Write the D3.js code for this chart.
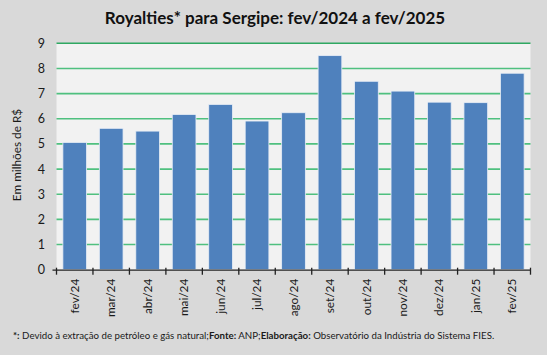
<!DOCTYPE html>
<html><head><meta charset="utf-8">
<script src="https://cdn.jsdelivr.net/npm/d3@7"></script>
<style>
html,body{margin:0;padding:0;background:#d9d9d9;}
svg{display:block;font-family:Lato,"Open Sans",sans-serif;}
</style></head>
<body><svg id="c" width="547" height="355"></svg>
<script>
const categories = ["fev/24","mar/24","abr/24","mai/24","jun/24","jul/24","ago/24","set/24","out/24","nov/24","dez/24","jan/25","fev/25"];
const values = [5.06,5.62,5.51,6.17,6.57,5.91,6.24,8.51,7.49,7.10,6.66,6.64,7.81];
const yTicks = [0,1,2,3,4,5,6,7,8,9];
const title = "Royalties* para Sergipe: fev/2024 a fev/2025";
const yTitle = "Em milhões de R$";

const svg = d3.select("#c");
const W = 547, H = 355;
const m = {left:56.5, right:16.5, top:43.3, bottom:85.3};
const iw = W - m.left - m.right, ih = H - m.top - m.bottom;

svg.append("rect").attr("width",W).attr("height",H).attr("fill","#d9d9d9");

const x = d3.scaleBand().domain(categories).range([0,iw]).paddingInner(0.35).paddingOuter(0.175);
const y = d3.scaleLinear().domain([0,9]).range([ih,0]);

const g = svg.append("g").attr("transform",`translate(${m.left},${m.top})`);
g.append("rect").attr("width",iw).attr("height",ih).attr("fill","#f2f2f2");

// gridlines
g.append("g").selectAll("line").data(yTicks.filter(d=>d>0)).join("line")
  .attr("x1",0).attr("x2",iw).attr("y1",d=>y(d)).attr("y2",d=>y(d))
  .attr("stroke",d=>d===9?"#2fa862":"#4fc07f").attr("stroke-width",1.6);

// bars
g.append("g").selectAll("rect").data(values).join("rect")
  .attr("x",(d,i)=>x(categories[i])).attr("width",x.bandwidth())
  .attr("y",d=>y(d)).attr("height",d=>ih-y(d))
  .attr("fill","#4f81bd").attr("stroke","#e8eef6").attr("stroke-width",0.8);

// y axis labels
const ya = g.append("g").call(d3.axisLeft(y).tickValues(yTicks).tickSize(0).tickPadding(11.5));
ya.select(".domain").remove();
ya.selectAll("text").attr("font-family","Lato,sans-serif").attr("font-size",12.5).attr("fill","#1a1a1a");

// x axis
const xa = g.append("g").attr("transform",`translate(0,${ih})`)
  .call(d3.axisBottom(x).tickSize(0).tickPadding(0));
xa.select(".domain").attr("stroke","#222").attr("stroke-width",1.3).attr("d",`M-4,0.5H${iw}`);
const boundaries = d3.range(categories.length+1).map(i=>i*iw/categories.length);
xa.selectAll(".bt").data(boundaries).join("line").attr("class","bt")
  .attr("x1",d=>d).attr("x2",d=>d).attr("y1",-2).attr("y2",5)
  .attr("stroke","#222").attr("stroke-width",1.3);
xa.selectAll(".tick text")
  .attr("font-family","Lato,sans-serif").attr("font-size",11.8).attr("fill","#1a1a1a")
  .attr("transform","rotate(-90)").attr("text-anchor","end")
  .attr("x",-9).attr("y",0).attr("dy","0.35em");

// title
svg.append("text").attr("x",275).attr("y",23.5).attr("text-anchor","middle")
  .attr("font-family","Lato,sans-serif").attr("font-weight","bold").attr("font-size",17)
  .attr("fill","#111").text(title);

// y title
svg.append("text").attr("transform",`translate(21,155) rotate(-90)`).attr("text-anchor","middle")
  .attr("font-family","Lato,sans-serif").attr("font-size",11.8).attr("fill","#1a1a1a").text(yTitle);

// footnote
const fn = svg.append("text").attr("x",13).attr("y",339)
  .attr("font-family","Lato,sans-serif").attr("font-size",9.7).attr("fill","#1a1a1a");
const parts = [["*:",true],[" Devido à extração de petróleo e gás natural;",false],["Fonte:",true],[" ANP;",false],["Elaboração:",true],[" Observatório da Indústria do Sistema FIES.",false]];
fn.selectAll("tspan").data(parts).join("tspan").attr("font-weight",d=>d[1]?"bold":"normal").text(d=>d[0]);
</script></body></html>
